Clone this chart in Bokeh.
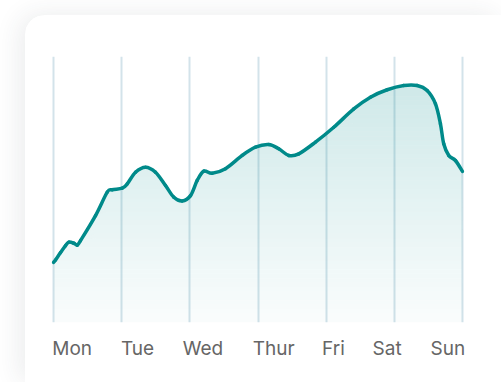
import numpy as np
from bokeh.plotting import figure
from bokeh.models import Range1d, FixedTicker
from bokeh.layouts import column
from bokeh.embed import file_html
from bokeh.resources import INLINE

# ---- data ----
days = ["Mon", "Tue", "Wed", "Thur", "Fri", "Sat", "Sun"]
day_grid = [0, 1, 2, 3, 4, 5, 6]
label_pos = [0.274, 1.232, 2.193, 3.232, 4.107, 4.895, 5.787]

x_vals = [0.000, 0.029, 0.103, 0.176, 0.224, 0.298, 0.348, 0.396, 0.616, 0.788,
          0.861, 1.008, 1.081, 1.203, 1.350, 1.496, 1.643, 1.765, 1.888, 2.010,
          2.108, 2.205, 2.328, 2.523, 2.768, 2.963, 3.158, 3.305, 3.452, 3.598,
          3.843, 4.112, 4.405, 4.650, 4.895, 5.139, 5.335, 5.482, 5.604, 5.677,
          5.725, 5.799, 5.897, 6.000]
y_vals = [22.6, 23.5, 26.3, 28.9, 30.2, 29.8, 29.1, 30.8, 40.2, 49.0,
          49.9, 50.5, 52.1, 56.5, 58.4, 56.5, 51.5, 47.1, 45.7, 47.7,
          53.4, 56.9, 56.1, 57.8, 62.8, 65.9, 66.9, 65.3, 62.8, 63.4,
          67.8, 73.4, 80.3, 84.7, 87.5, 89.1, 89.1, 87.2, 82.2, 74.7,
          67.2, 62.8, 60.9, 56.8]

TEAL = "#008a8a"

p = figure(width=476, height=367,
           x_range=Range1d(-0.03, 6.03), y_range=Range1d(0, 100),
           output_backend="svg", toolbar_location=None, y_axis_location=None,
           min_border_left=26, min_border_right=37, min_border_top=41,
           min_border_bottom=60)
p.margin = (15, 0, 0, 25)
p.styles = {"border-top-left-radius": "20px", "overflow": "hidden",
            "box-shadow": "-6px -1px 26px rgba(40, 50, 70, 0.09)"}
p.outline_line_color = None
p.background_fill_color = "white"
p.border_fill_color = "white"

# grid
p.ygrid.visible = False
p.xgrid.ticker = FixedTicker(ticks=day_grid)
p.xgrid.grid_line_color = "#d3e3ea"
p.xgrid.grid_line_width = 2

# gradient area (horizontal bands)
xs = np.array(x_vals)
ys = np.array(y_vals)
N = 60
for k in range(N):
    lo = 100.0 * k / N
    hi = 100.0 * (k + 1) / N
    if lo >= ys.max():
        break
    y1 = np.minimum(ys, lo)
    y2 = np.minimum(ys, hi)
    frac = (lo + hi) / 200.0
    alpha = 0.02 + 0.19 * frac
    p.varea(x=xs, y1=y1, y2=y2, fill_color=TEAL, fill_alpha=alpha)

# smooth line through the points (Catmull-Rom drawn as cubic Bezier segments)
P = np.column_stack([xs, ys])
Pp = np.vstack([P[0], P, P[-1]])
p0, p1, p2, p3 = Pp[:-3], Pp[1:-2], Pp[2:-1], Pp[3:]
c1 = p1 + (p2 - p0) / 6.0
c2 = p2 - (p3 - p1) / 6.0
p.bezier(x0=p1[:, 0], y0=p1[:, 1], x1=p2[:, 0], y1=p2[:, 1],
         cx0=c1[:, 0], cy0=c1[:, 1], cx1=c2[:, 0], cy1=c2[:, 1],
         line_color=TEAL, line_width=3.5, line_cap="round")

# axis
ax = p.xaxis[0]
ax.ticker = FixedTicker(ticks=label_pos)
ax.major_label_overrides = {pos: d for pos, d in zip(label_pos, days)}
ax.axis_line_color = None
ax.major_tick_line_color = None
ax.minor_tick_line_color = None
ax.major_tick_out = 0
ax.major_label_standoff = 14
ax.major_label_text_font = "Inter"
ax.major_label_text_font_size = "19px"
ax.major_label_text_color = "#666666"

layout = column(p, width=501, height=382, styles={"background-color": "white"})

open("out.html", "w").write(file_html(layout, INLINE))
